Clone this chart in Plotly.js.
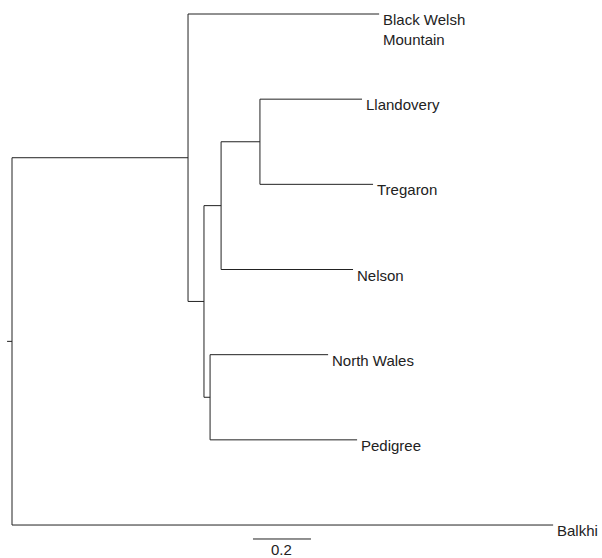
<!DOCTYPE html>
<html>
<head>
<meta charset="utf-8">
<script src="https://cdn.plot.ly/plotly-3.0.1.min.js"></script>
<style>html,body{margin:0;padding:0;background:#fff;}#chart{width:602px;height:558px;}</style>
</head>
<body>
<div id="chart"></div>
<script>
// Tree nodes (internal nodes first, then tips in display order)
const nodeNames = ['root', 'n1', 'n2', 'n3', 'n4', 'n5',
  'Black Welsh<br>Mountain', 'Llandovery', 'Tregaron', 'Nelson', 'North Wales', 'Pedigree', 'Balkhi'];
const parentNames = [null, 'root', 'n1', 'n2', 'n3', 'n2',
  'n1', 'n4', 'n4', 'n3', 'n5', 'n5', 'root'];
// branch lengths (scale: 0.2 bar)
const branchLengths = [0, 0.607, 0.055, 0.059, 0.134, 0.021,
  0.659, 0.352, 0.390, 0.455, 0.407, 0.507, 1.866];
const tipOrder = ['Black Welsh<br>Mountain', 'Llandovery', 'Tregaron', 'Nelson', 'North Wales', 'Pedigree', 'Balkhi'];
const rootEdge = 0.017;
const scaleBarLength = 0.2;
const scaleBarLabel = '0.2';

// compute coordinates
const idx = {};
nodeNames.forEach((n, i) => idx[n] = i);
const children = nodeNames.map(() => []);
parentNames.forEach((p, i) => { if (p !== null) children[idx[p]].push(i); });
const X = new Array(nodeNames.length).fill(0);
const Y = new Array(nodeNames.length).fill(0);
function setX(i, base) { X[i] = base + branchLengths[i]; children[i].forEach(c => setX(c, X[i])); }
setX(0, 0);
function setY(i) {
  if (children[i].length === 0) { Y[i] = tipOrder.indexOf(nodeNames[i]); return Y[i]; }
  const ys = children[i].map(setY);
  Y[i] = (Math.min(...ys) + Math.max(...ys)) / 2;
  return Y[i];
}
setY(0);

const lx = [], ly = [];
nodeNames.forEach((n, i) => {
  if (children[i].length) {
    const ys = children[i].map(c => Y[c]);
    lx.push(X[i], X[i], null); ly.push(Math.min(...ys), Math.max(...ys), null);
  }
  if (parentNames[i] !== null) {
    const p = idx[parentNames[i]];
    lx.push(X[p], X[i], null); ly.push(Y[i], Y[i], null);
  }
});
// root edge tick
lx.push(-rootEdge, 0, null); ly.push(Y[0], Y[0], null);

const tipY = tipOrder.length - 1;
const barStart = 0.831;
const barY = tipY + 0.164;
const traces = [
  {x: lx, y: ly, mode: 'lines', line: {color: '#222', width: 1}, hoverinfo: 'skip', showlegend: false},
  {x: [barStart, barStart + scaleBarLength], y: [barY, barY], mode: 'lines', line: {color: '#222', width: 1}, hoverinfo: 'skip', showlegend: false}
];

const annotations = tipOrder.map(t => ({
  x: X[idx[t]], y: Y[idx[t]], xref: 'x', yref: 'y', text: t, showarrow: false,
  xanchor: 'left', yanchor: 'top', align: 'left', xshift: 2, yshift: 5,
  font: {family: 'Liberation Sans, Arial, sans-serif', size: 15, color: '#222'}
}));
annotations.push({
  x: barStart + scaleBarLength / 2, y: barY, xref: 'x', yref: 'y', text: scaleBarLabel, showarrow: false,
  xanchor: 'center', yanchor: 'top', yshift: 0,
  font: {family: 'Liberation Sans, Arial, sans-serif', size: 15, color: '#222'}
});

const layout = {
  width: 602, height: 558,
  margin: {l: 0, r: 0, t: 0, b: 0},
  paper_bgcolor: '#fff', plot_bgcolor: '#fff',
  xaxis: {range: [-12 / 290, 590 / 290], visible: false, fixedrange: true},
  yaxis: {range: [544 / 85.17, -14 / 85.17], visible: false, fixedrange: true},
  annotations: annotations,
  showlegend: false
};
Plotly.newPlot('chart', traces, layout, {staticPlot: true});
</script>
</body>
</html>
